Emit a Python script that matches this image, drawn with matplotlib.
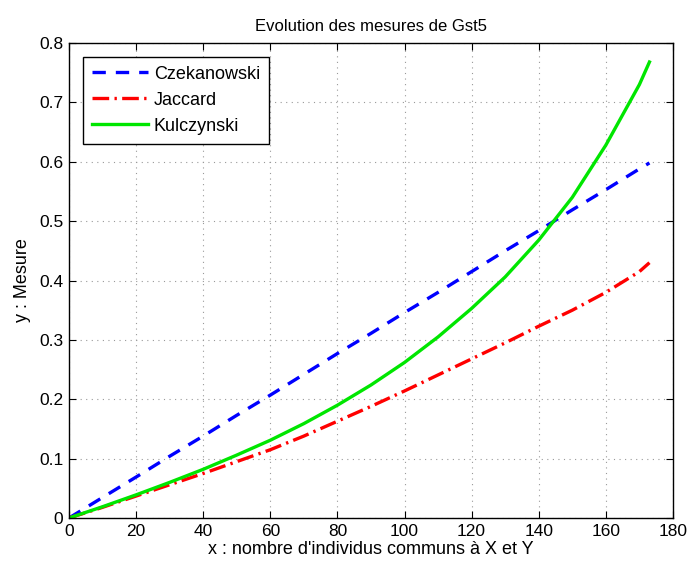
import numpy as np
import matplotlib.pyplot as plt
from matplotlib import rcParams

rcParams['font.family'] = ['Liberation Sans', 'DejaVu Sans']

# values
x = [0, 10, 20, 30, 40, 50, 60, 70, 80, 90, 100, 110, 120, 130, 140, 150, 160, 170, 173]
czekanowski = [0, 0.0346, 0.069, 0.104, 0.138, 0.173, 0.207, 0.242, 0.277, 0.311, 0.346,
               0.38, 0.415, 0.45, 0.484, 0.519, 0.553, 0.588, 0.598]
jaccard = [0, 0.018, 0.037, 0.056, 0.075, 0.095, 0.115, 0.138, 0.163, 0.188, 0.214,
           0.241, 0.268, 0.295, 0.323, 0.35, 0.38, 0.415, 0.43]
kulczynski = [0, 0.019, 0.039, 0.060, 0.082, 0.106, 0.131, 0.159, 0.19, 0.224, 0.262,
              0.305, 0.353, 0.406, 0.468, 0.54, 0.628, 0.73, 0.768]

fig = plt.figure(figsize=(6.89, 5.63), dpi=100)
ax = fig.add_axes([0.1001, 0.0799, 0.8766, 0.8437])

ax.plot(x, czekanowski, color='#0000ff', lw=2.4, dashes=(4, 3), label='Czekanowski')
ax.plot(x, jaccard, color='#ff0000', lw=2.4, dashes=(5, 1.6, 0.7, 1.6), label='Jaccard')
ax.plot(x, kulczynski, '-', color='#00e600', lw=2.4, label='Kulczynski')

ax.set_xlim(0, 180)
ax.set_ylim(0, 0.8)
ax.set_xticks(np.arange(0, 181, 20))
ax.set_yticks(np.arange(0, 0.81, 0.1))
ax.set_yticklabels(['0', '0.1', '0.2', '0.3', '0.4', '0.5', '0.6', '0.7', '0.8'])
ax.tick_params(direction='in', top=True, right=True, labelsize=12.5, length=5, pad=4)
ax.grid(True, color='#999999', lw=0.8, dashes=(1, 4))
for s in ax.spines.values():
    s.set_linewidth(1.0)
ax.set_title('Evolution des mesures de Gst5', fontsize=12, pad=9)
ax.set_xlabel("x : nombre d'individus communs à X et Y", fontsize=13, labelpad=2)
ax.set_ylabel('y : Mesure', fontsize=13, labelpad=6)

leg = ax.legend(loc='upper left', fontsize=13, fancybox=False, edgecolor='black',
                framealpha=1, handlelength=3.1, handletextpad=0.35, borderpad=0.5,
                borderaxespad=0.75, labelspacing=0.5)
leg.get_frame().set_linewidth(1.0)

fig.savefig('out.png', dpi=100)
